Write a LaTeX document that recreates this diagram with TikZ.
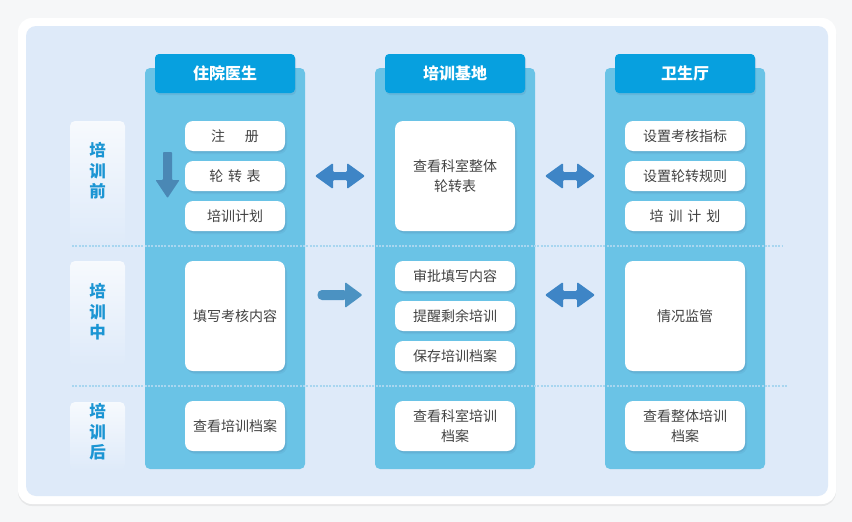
\documentclass[tikz,border=0pt]{standalone}
\usepackage{fontspec}
\setmainfont{Noto Sans CJK SC}
\usetikzlibrary{shadows}
\definecolor{pagebg}{HTML}{F6F7F8}
\definecolor{panel}{HTML}{DEEAF9}
\definecolor{bodyc}{HTML}{6AC3E6}
\definecolor{headc}{HTML}{07A0DF}
\definecolor{labc}{HTML}{1B95D3}
\definecolor{txt}{HTML}{424242}
\definecolor{dblc}{HTML}{3E85C6}
\definecolor{downc}{HTML}{4A88B5}
\definecolor{rightc}{HTML}{4B92C2}
\definecolor{dotc}{HTML}{A8D6F0}
\definecolor{shadc}{HTML}{4A7FA6}
\begin{document}
\begin{tikzpicture}[x=1pt,y=-1pt,
  body/.style={fill=bodyc, rounded corners=5pt, inner sep=0pt, minimum width=160pt, minimum height=401pt},
  head/.style={fill=headc, rounded corners=4pt, inner sep=0pt, minimum width=140pt, minimum height=39pt,
    text=white, font=\bfseries\fontsize{16}{18}\selectfont,
    drop shadow={shadow xshift=1pt, shadow yshift=-2pt, opacity=.18, fill=shadc}},
  box/.style={fill=white, rounded corners=8pt, inner sep=0pt, text=txt, align=center,
    font=\fontsize{14}{19.5}\selectfont,
    general shadow={shadow xshift=2pt, shadow yshift=-3pt, opacity=.12, fill=shadc},
    drop shadow={shadow xshift=1pt, shadow yshift=-1.5pt, opacity=.2, fill=shadc}},
  sbox/.style={box, minimum height=30pt},
  labbox/.style={rounded corners=5pt, inner sep=0pt, minimum width=55pt, top color=white!75!panel, bottom color=panel},
  lab/.style={text=labc, align=center, font=\bfseries\fontsize{16.5}{20.5}\selectfont},
  dotline/.style={dotc, line width=2pt, dash pattern=on 2pt off 1.3pt},
  dbl/.pic={\fill[dblc, rounded corners=1.2pt] (-25,0) -- (-7,-13) -- (-7,-4) -- (7,-4) -- (7,-13) -- (25,0) -- (7,13) -- (7,4) -- (-7,4) -- (-7,13) -- cycle;},
  rgt/.pic={\fill[rightc, rounded corners=4.5pt] (-22.5,-5) rectangle (8,5);
            \fill[rightc, rounded corners=1.2pt] (5,-5) -- (5,-13) -- (22.5,0) -- (5,13) -- (5,5) -- cycle;},
  dwn/.pic={\fill[downc, rounded corners=0.8pt] (-4.5,-23) -- (4.5,-23) -- (4.5,5) -- (12,5) -- (0,23) -- (-12,5) -- (-4.5,5) -- cycle;}
]
\useasboundingbox (0,0) rectangle (852,522);
\fill[pagebg] (0,0) rectangle (852,522);
\node[fill=white, rounded corners=14pt, minimum width=818pt, minimum height=486pt, inner sep=0pt,
  drop shadow={shadow xshift=0pt, shadow yshift=-2pt, opacity=.06, fill=black}] (card) at (427,261) {};
\node[fill=panel, rounded corners=10pt, minimum width=802pt, minimum height=470pt, inner sep=0pt] (panel) at (427,261) {};

% row label boxes
\node[labbox, minimum height=124pt] (lb1) at (97.5,183) {};
\node[labbox, minimum height=105pt] (lb2) at (97.5,313.5) {};
\node[labbox, minimum height=68pt] (lb3) at (97.5,436) {};
\node[lab] (l1) at (97.5,171) {培\\训\\前};
\node[lab] (l2) at (97.5,312) {培\\训\\中};
\node[lab] (l3) at (97.5,432) {培\\训\\后};

% column bodies
\node[body] (b1) at (225,268.5) {};
\node[body] (b2) at (455,268.5) {};
\node[body] (b3) at (685,268.5) {};

% dotted separators
\draw[dotline] (72,246) -- (782,246);
\draw[dotline] (72,386) -- (787,386);

% headers
\node[head] (h1) at (225,73.5) {住院医生};
\node[head] (h2) at (455,73.5) {培训基地};
\node[head] (h3) at (685,73.5) {卫生厅};

% column 1
\node[sbox, minimum width=100pt] (c1a) at (235,136) {注\hspace{1.4em}册};
\node[sbox, minimum width=100pt] (c1b) at (235,176) {轮\hspace{0.33em}转\hspace{0.33em}表};
\node[sbox, minimum width=100pt] (c1c) at (235,216) {培训计划};
\node[box, minimum width=100pt, minimum height=110pt] (c1d) at (235,316) {填写考核内容};
\node[box, minimum width=100pt, minimum height=50pt] (c1e) at (235,426) {查看培训档案};
\pic (down) at (167.5,175) {dwn};

% column 2
\node[box, minimum width=120pt, minimum height=110pt] (c2a) at (455,176) {查看科室整体\\轮转表};
\node[sbox, minimum width=120pt] (c2b) at (455,276) {审批填写内容};
\node[sbox, minimum width=120pt] (c2c) at (455,316) {提醒剩余培训};
\node[sbox, minimum width=120pt] (c2d) at (455,356) {保存培训档案};
\node[box, minimum width=120pt, minimum height=50pt] (c2e) at (455,426) {查看科室培训\\档案};

% column 3
\node[sbox, minimum width=120pt] (c3a) at (685,136) {设置考核指标};
\node[sbox, minimum width=120pt] (c3b) at (685,176) {设置轮转规则};
\node[sbox, minimum width=120pt] (c3c) at (685,216) {培\hspace{0.35em}训\hspace{0.35em}计\hspace{0.35em}划};
\node[box, minimum width=120pt, minimum height=110pt] (c3d) at (685,316) {情况监管};
\node[box, minimum width=120pt, minimum height=50pt] (c3e) at (685,426) {查看整体培训\\档案};

% arrows between columns
\pic (a12) at (340,176) {dbl};
\pic (a23) at (570,176) {dbl};
\pic (m12) at (340,295) {rgt};
\pic (m23) at (570,295) {dbl};
\end{tikzpicture}
\end{document}
